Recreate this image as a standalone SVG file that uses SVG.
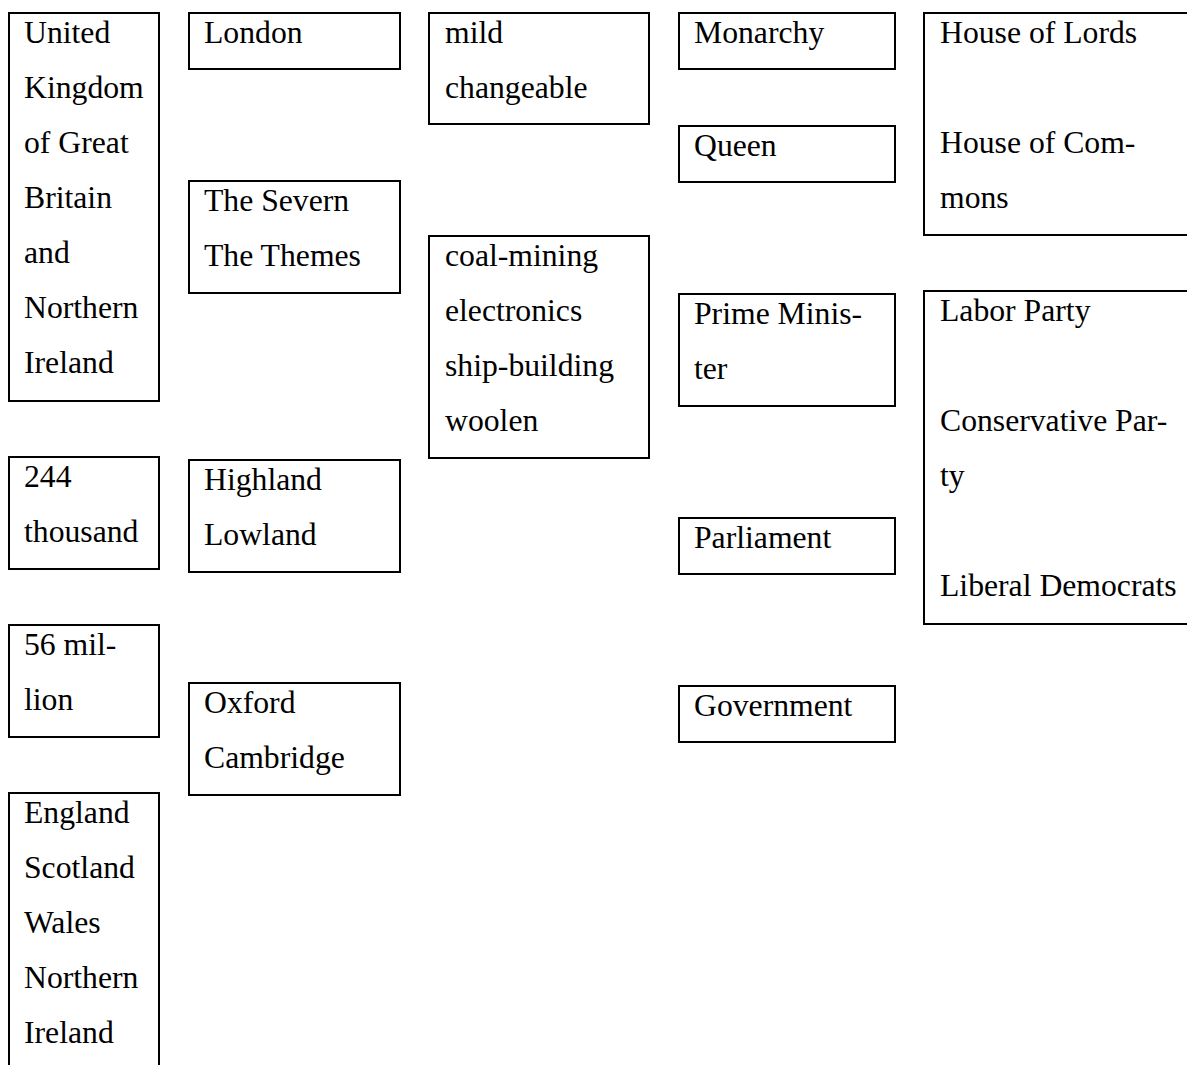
<svg xmlns="http://www.w3.org/2000/svg" width="1187" height="1065" viewBox="0 0 1187 1065">
<style>
.box{fill:#ffffff;stroke:#000000;stroke-width:2}
.t{font-size:31.7px;fill:#000000}
</style>
<rect x="0" y="0" width="1187" height="1065" fill="#ffffff"/>
<g id="connectors"></g>
<g font-family="Liberation Serif, Times New Roman, serif">
<g id="uk"><rect class="box" x="9" y="13" width="150" height="388"/>
<text class="t"><tspan x="24" y="43">United</tspan><tspan x="24" y="98">Kingdom</tspan><tspan x="24" y="153">of Great</tspan><tspan x="24" y="208">Britain</tspan><tspan x="24" y="263">and</tspan><tspan x="24" y="318">Northern</tspan><tspan x="24" y="373">Ireland</tspan></text></g>
<g id="area"><rect class="box" x="9" y="457" width="150" height="112"/>
<text class="t"><tspan x="24" y="487">244</tspan><tspan x="24" y="542">thousand</tspan></text></g>
<g id="population"><rect class="box" x="9" y="625" width="150" height="112"/>
<text class="t"><tspan x="24" y="655">56 mil-</tspan><tspan x="24" y="710">lion</tspan></text></g>
<g id="countries"><rect class="box" x="9" y="793" width="150" height="300"/>
<text class="t"><tspan x="24" y="823">England</tspan><tspan x="24" y="878">Scotland</tspan><tspan x="24" y="933">Wales</tspan><tspan x="24" y="988">Northern</tspan><tspan x="24" y="1043">Ireland</tspan></text></g>
<g id="capital"><rect class="box" x="189" y="13" width="211" height="56"/>
<text class="t"><tspan x="204" y="43">London</tspan></text></g>
<g id="rivers"><rect class="box" x="189" y="181" width="211" height="112"/>
<text class="t"><tspan x="204" y="211">The Severn</tspan><tspan x="204" y="266">The Themes</tspan></text></g>
<g id="regions"><rect class="box" x="189" y="460" width="211" height="112"/>
<text class="t"><tspan x="204" y="490">Highland</tspan><tspan x="204" y="545">Lowland</tspan></text></g>
<g id="universities"><rect class="box" x="189" y="683" width="211" height="112"/>
<text class="t"><tspan x="204" y="713">Oxford</tspan><tspan x="204" y="768">Cambridge</tspan></text></g>
<g id="climate"><rect class="box" x="429" y="13" width="220" height="111"/>
<text class="t"><tspan x="445" y="43">mild</tspan><tspan x="445" y="98">changeable</tspan></text></g>
<g id="industry"><rect class="box" x="429" y="236" width="220" height="222"/>
<text class="t"><tspan x="445" y="266">coal-mining</tspan><tspan x="445" y="321">electronics</tspan><tspan x="445" y="376">ship-building</tspan><tspan x="445" y="431">woolen</tspan></text></g>
<g id="monarchy"><rect class="box" x="679" y="13" width="216" height="56"/>
<text class="t"><tspan x="694" y="43">Monarchy</tspan></text></g>
<g id="queen"><rect class="box" x="679" y="126" width="216" height="56"/>
<text class="t"><tspan x="694" y="156">Queen</tspan></text></g>
<g id="pm"><rect class="box" x="679" y="294" width="216" height="112"/>
<text class="t"><tspan x="694" y="324">Prime Minis-</tspan><tspan x="694" y="379">ter</tspan></text></g>
<g id="parliament"><rect class="box" x="679" y="518" width="216" height="56"/>
<text class="t"><tspan x="694" y="548">Parliament</tspan></text></g>
<g id="government"><rect class="box" x="679" y="686" width="216" height="56"/>
<text class="t"><tspan x="694" y="716">Government</tspan></text></g>
<g id="houses"><rect class="box" x="924" y="13" width="280" height="222"/>
<text class="t"><tspan x="940" y="43">House of Lords</tspan><tspan x="940" y="153">House of Com-</tspan><tspan x="940" y="208">mons</tspan></text></g>
<g id="parties"><rect class="box" x="924" y="291" width="280" height="333"/>
<text class="t"><tspan x="940" y="321">Labor Party</tspan><tspan x="940" y="431">Conservative Par-</tspan><tspan x="940" y="486">ty</tspan><tspan x="940" y="596">Liberal Democrats</tspan></text></g>
</g>
</svg>
